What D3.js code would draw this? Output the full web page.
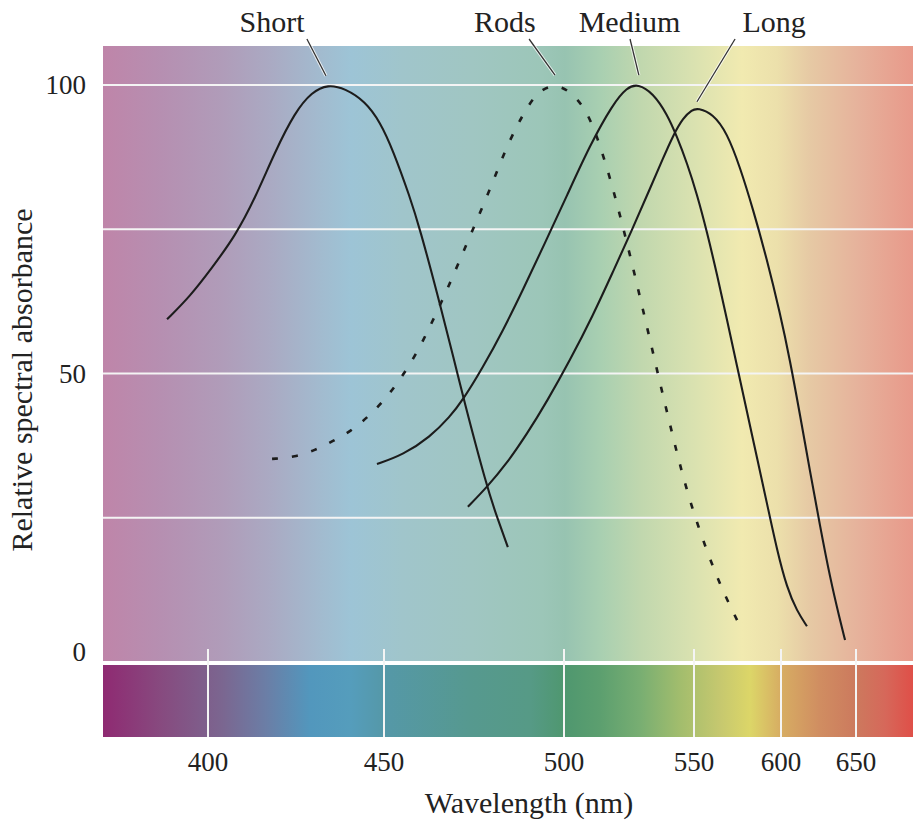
<!DOCTYPE html>
<html><head><meta charset="utf-8">
<script src="https://cdn.jsdelivr.net/npm/d3@7"></script>
<style>
body{margin:0;background:#fff}
text{font-family:"Liberation Serif","Times New Roman",serif;fill:#222}
</style>
</head><body>
<svg id="chart" width="913" height="827"></svg>
<script>
// ---------- data ----------
const xTickValues = [400, 450, 500, 550, 600, 650];
const yTickValues = [0, 50, 100];
const yGridValues = [25, 50, 75, 100];

const shortNm  = [388.3, 394.9, 401.1, 407.7, 413.4, 419.0, 424.7, 429.5, 434.1, 438.9, 444.6, 448.9, 452.5, 457.2, 460.0, 464.7, 469.7, 471.9, 478.6, 481.4, 484.4];
const shortVal = [59.4, 63.4, 68.3, 73.8, 80.4, 88.4, 95.3, 98.8, 100.1, 99.4, 97.2, 93.6, 88.7, 80.6, 75.0, 64.1, 51.8, 46.1, 30.3, 25.1, 19.9];

const rodsNm  = [418.2, 424.7, 430.4, 435.5, 440.6, 445.1, 449.4, 453.1, 456.4, 459.2, 461.9, 466.9, 471.1, 475.8, 480.3, 484.4, 489.7, 493.3, 498.3, 505.0, 510.0, 513.8, 517.7, 521.5, 525.4, 529.2, 533.1, 536.9, 540.8, 544.6, 549.2, 557.5, 566.7, 578.2];
const rodsVal = [35.2, 35.5, 36.7, 38.3, 40.0, 42.3, 44.9, 47.8, 50.8, 53.7, 57.0, 63.6, 69.7, 76.6, 83.2, 89.9, 96.2, 99.2, 100.3, 97.9, 94.3, 89.6, 83.9, 77.5, 70.5, 63.3, 55.8, 48.4, 41.1, 34.1, 26.7, 19.1, 12.1, 5.2];

const mediumNm  = [448.0, 455.3, 462.8, 468.3, 471.9, 477.5, 483.1, 488.6, 494.7, 501.2, 510.0, 518.8, 524.2, 528.5, 534.2, 539.6, 543.5, 547.3, 551.7, 557.5, 563.2, 569.0, 574.7, 580.5, 586.2, 592.0, 597.7, 604.0, 610.7, 617.3];
const mediumVal = [34.3, 35.9, 39.0, 42.5, 45.4, 51.1, 57.5, 64.5, 72.6, 80.9, 89.6, 96.7, 99.6, 100.2, 98.6, 95.0, 91.0, 86.5, 81.1, 74.5, 67.2, 59.3, 51.3, 43.3, 35.4, 27.4, 19.4, 12.8, 8.8, 6.2];

const longNm  = [473.3, 478.6, 484.2, 489.7, 495.3, 502.3, 511.2, 518.8, 526.2, 533.1, 538.1, 542.0, 545.8, 549.2, 552.3, 560.9, 569.0, 576.4, 583.9, 591.9, 599.4, 606.0, 612.7, 619.3, 626.0, 632.7, 639.3, 642.7];
const longVal = [26.9, 30.3, 34.5, 39.5, 45.2, 52.3, 60.1, 67.6, 74.9, 82.1, 87.3, 91.3, 94.3, 95.7, 96.0, 95.0, 91.7, 85.8, 78.5, 69.8, 60.5, 52.3, 42.8, 33.1, 23.6, 14.6, 7.3, 3.8];

const seriesNames  = ["Short", "Rods", "Medium", "Long"];
const labelCenterNm = [418.2, 483.6, 525.2, 596.0];
const leaderTopNm   = [428.1, 490.3, 525.4, 573.6];
const leaderEndNm   = [433.5, 497.5, 528.8, 551.7];
const leaderEndVal  = [101.6, 101.7, 101.7, 97.1];

// spectrum colours (wavelength -> colour)
const upperStopNm = [370, 386.5, 404.0, 417.9, 432.1, 440.6, 455.0, 474.5, 493.9, 500.3, 513.8, 529.2, 548.5, 577.5, 597.7, 619.3, 652.6, 688];
const upperStopColor = ["#bf85a9","#b68fb1","#b09cb9","#aaaac3","#a2bbcf","#9dc4d6","#a0c5cb","#a0c6c2","#9cc6b8","#97c3b1","#a8cfb1","#c0d7ae","#d8e1b0","#f1eab0","#ece0ab","#e6c9a4","#e6b19b","#e8998a"];
const lowerStopNm = [370, 386.5, 404.0, 416.5, 429.0, 440.4, 450, 473.9, 490.6, 500.3, 513.8, 529.2, 544.6, 564.9, 582.2, 599.4, 626.0, 649.3, 669.3, 688];
const lowerStopColor = ["#8f2a72","#874a7f","#7b6690","#6b7ea6","#5297bd","#559dbc","#5598a8","#56998f","#569a86","#4f976f","#5c9f6f","#78ae72","#a2bd6d","#c6c86f","#dcd668","#d7ae63","#d08d61","#cc7a5e","#d6685a","#df4f48"];

// ---------- layout ----------
const svg = d3.select("#chart");
const L = 103, R = 913, T = 46, plotBottom = 661, bandTop = 665, bandBottom = 737;

const x = d3.scaleLinear()
  .domain([370, 400, 450, 500, 550, 600, 650, 688])
  .range([103, 208, 384, 564, 694, 781, 856, 913]);
const y = d3.scaleLinear().domain([0, 100]).range([662, 85]);

const defs = svg.append("defs");
function makeGrad(id, nms, cols) {
  const g = defs.append("linearGradient").attr("id", id)
    .attr("gradientUnits", "userSpaceOnUse")
    .attr("x1", L).attr("x2", R).attr("y1", 0).attr("y2", 0);
  nms.forEach((nm, i) => {
    g.append("stop").attr("offset", (x(nm) - L) / (R - L)).attr("stop-color", cols[i]);
  });
}
makeGrad("upperGrad", upperStopNm, upperStopColor);
makeGrad("lowerGrad", lowerStopNm, lowerStopColor);

svg.append("rect").attr("x", L).attr("y", T).attr("width", R - L).attr("height", plotBottom - T)
  .attr("fill", "url(#upperGrad)");
svg.append("rect").attr("x", L).attr("y", bandTop).attr("width", R - L).attr("height", bandBottom - bandTop)
  .attr("fill", "url(#lowerGrad)");

// horizontal grid
svg.append("g").selectAll("line").data(yGridValues).join("line")
  .attr("x1", L).attr("x2", R)
  .attr("y1", d => y(d)).attr("y2", d => y(d))
  .attr("stroke", "#f4f4f4").attr("stroke-width", 2);

// vertical tick lines across bands
svg.append("g").selectAll("line").data(xTickValues).join("line")
  .attr("x1", d => x(d)).attr("x2", d => x(d))
  .attr("y1", 649).attr("y2", bandBottom)
  .attr("stroke", "#f4f4f4").attr("stroke-width", 2);

// x tick labels
svg.append("g").selectAll("text").data(xTickValues).join("text")
  .attr("x", d => x(d)).attr("y", 771)
  .attr("text-anchor", "middle").attr("font-size", 27)
  .text(d => d);

// y tick labels
svg.append("g").selectAll("text").data(yTickValues).join("text")
  .attr("x", 86).attr("y", d => d === 0 ? y(d) - 1 : y(d) + 9)
  .attr("text-anchor", "end").attr("font-size", 27)
  .text(d => d);

// axis titles
svg.append("text").attr("x", 529).attr("y", 813).attr("text-anchor", "middle")
  .attr("font-size", 30).text("Wavelength (nm)");
svg.append("text").attr("transform", "translate(32,380) rotate(-90)")
  .attr("text-anchor", "middle").attr("font-size", 30).text("Relative spectral absorbance");

// curves
const line = d3.line().x(d => x(d[0])).y(d => y(d[1])).curve(d3.curveBasis);
const zip = (a, b) => a.map((v, i) => [v, b[i]]);
const curves = [
  {pts: zip(shortNm, shortVal), dash: null},
  {pts: zip(rodsNm, rodsVal), dash: "6 14"},
  {pts: zip(mediumNm, mediumVal), dash: null},
  {pts: zip(longNm, longVal), dash: null}
];
svg.append("g").selectAll("path").data(curves).join("path")
  .attr("d", d => line(d.pts))
  .attr("fill", "none").attr("stroke", "#1c1c1c")
  .attr("stroke-width", d => d.dash ? 2.6 : 2.1)
  .attr("stroke-dasharray", d => d.dash);

// labels with leader lines
const lg = svg.append("g");
seriesNames.forEach((name, i) => {
  const x1 = x(leaderTopNm[i]), y1 = 39, x2 = x(leaderEndNm[i]), y2 = y(leaderEndVal[i]);
  lg.append("line").attr("x1", x1).attr("y1", y1).attr("x2", x2).attr("y2", y2)
    .attr("stroke", "#ffffff").attr("stroke-width", 3.2).attr("stroke-opacity", 0.8);
  lg.append("line").attr("x1", x1).attr("y1", y1).attr("x2", x2).attr("y2", y2)
    .attr("stroke", "#333").attr("stroke-width", 1.3);
  lg.append("text").attr("x", x(labelCenterNm[i])).attr("y", 32)
    .attr("text-anchor", "middle").attr("font-size", 30).text(name);
});
</script>
</body></html>
